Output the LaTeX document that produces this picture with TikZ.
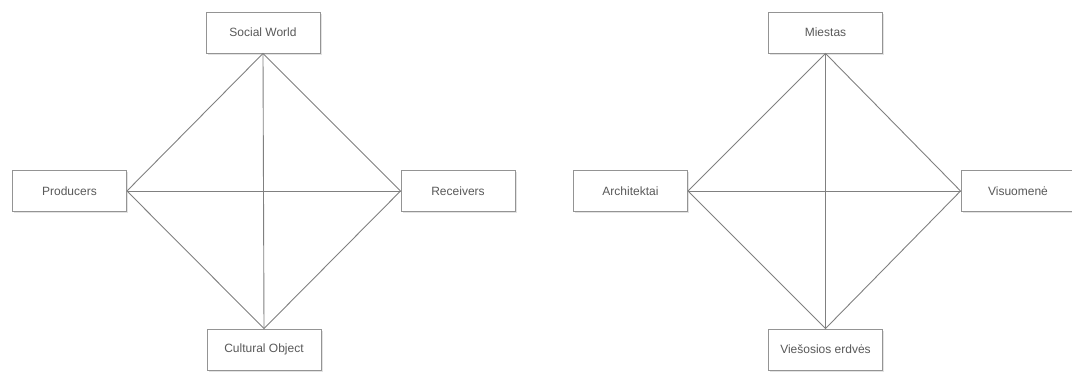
\documentclass[tikz,border=0pt]{standalone}
\usepackage{fontspec}
\setmainfont{Liberation Sans}
\usetikzlibrary{shadows}
\begin{document}
\begin{tikzpicture}[x=1pt,y=-1pt,
  box/.style={draw=black!42, line width=0.9pt, fill=white, minimum width=114pt, minimum height=41pt, inner sep=0pt,
    font=\fontsize{12}{14}\selectfont, text=black!65,
    drop shadow={shadow xshift=1.5pt, shadow yshift=-1.5pt, fill=black!18, opacity=0.6}},
  conn/.style={draw=black!50, line width=0.9pt}]
\useasboundingbox (0,0) rectangle (1072,372);
% left diagram
\node[box] (sw) at (263,32.5) {Social World};
\node[box] (pr) at (69.5,191) {Producers};
\node[box] (re) at (458,191) {Receivers};
\node[box] (co) at (264,349.5) {Cultural Object};
\draw[conn] (pr.east) -- (sw.south) -- (re.west) -- (co.north) -- (pr.east);
\draw[conn] (pr.east) -- (re.west);
\draw[conn] (sw.south) -- (co.north);
% right diagram
\node[box] (mi) at (825.5,32.5) {Miestas};
\node[box] (ar) at (630.5,191) {Architektai};
\node[box] (vi) at (1018,191) {Visuomenė};
\node[box] (ve) at (825.5,349.5) {Viešosios erdvės};
\draw[conn] (ar.east) -- (mi.south) -- (vi.west) -- (ve.north) -- (ar.east);
\draw[conn] (ar.east) -- (vi.west);
\draw[conn] (mi.south) -- (ve.north);
\end{tikzpicture}
\end{document}
